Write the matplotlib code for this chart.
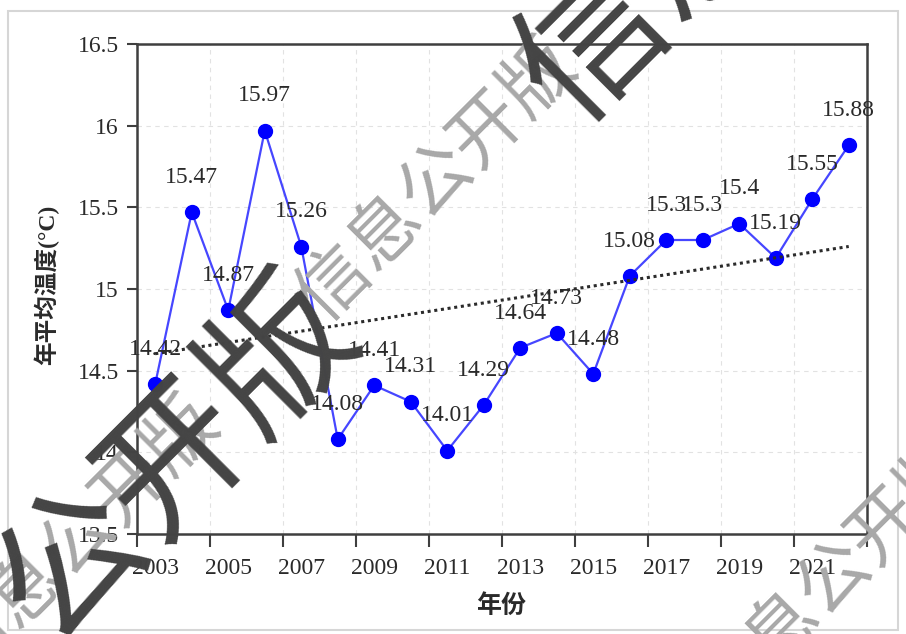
import matplotlib
matplotlib.use("Agg")
import matplotlib.pyplot as plt
import numpy as np
from matplotlib.patches import Rectangle

# Annual mean temperature series
years = list(range(2003, 2023))
temps = [14.42, 15.47, 14.87, 15.97, 15.26, 14.08, 14.41, 14.31, 14.01, 14.29,
         14.64, 14.73, 14.48, 15.08, 15.30, 15.30, 15.40, 15.19, 15.55, 15.88]
year_labels = ["2003", "2005", "2007", "2009", "2011", "2013", "2015",
               "2017", "2019", "2021"]
y_ticks = [13.5, 14.0, 14.5, 15.0, 15.5, 16.0, 16.5]
y_tick_labels = ["13.5", "14", "14.5", "15", "15.5", "16", "16.5"]
x_title = "年份"
y_title = "年平均温度(°C)"
stamp_text = "信息公开版"

W, H = 906, 634
fig = plt.figure(figsize=(W / 100, H / 100), dpi=100)
fig.patch.set_facecolor("white")

# light outer frame of the chart area
fig.patches.append(Rectangle((8 / W, 1 - 630 / H), 890 / W, 619 / H,
                             transform=fig.transFigure, fill=False,
                             edgecolor="#d6d6d6", lw=1.5, zorder=0))

ax = fig.add_axes([137 / W, 1 - 534 / H, 730 / W, 490 / H])
serif = ["Liberation Serif", "DejaVu Serif"]
cjk = ["Liberation Serif", "Noto Sans CJK SC", "DejaVu Sans"]
spine_col = "#3f3f3f"
text_col = "#2a2a2a"

x = np.arange(len(years))
ax.plot(x, temps, color="#4646ff", lw=1.6, zorder=3)
ax.plot(x, temps, ls="none", marker="o", ms=10, color="#0000ff", zorder=4)

# linear trend
coef = np.polyfit(x, temps, 1)
ax.plot(x, np.polyval(coef, x), ls=(0, (1, 1.2)), color="#2b2b2b", lw=2.2, zorder=5)

for xi, v in zip(x, temps):
    ax.annotate(f"{v:g}", (xi, v), xytext=(0, 25), textcoords="offset points",
                ha="center", va="center", fontsize=17, family=serif,
                color=text_col, zorder=6)

ax.set_xlim(-0.5, len(years) - 0.5)
ax.set_ylim(y_ticks[0], y_ticks[-1])
ax.set_yticks(y_ticks)
ax.set_yticklabels(y_tick_labels, family=serif, fontsize=17, color=text_col)
ax.set_xticks(np.arange(-0.5, len(years), 2))
ax.set_xticklabels([])
ax.set_xticks(np.arange(0, len(years), 2), minor=True)
ax.set_xticklabels(year_labels, minor=True, family=serif, fontsize=17, color=text_col)
ax.tick_params(axis="x", which="major", length=9, width=1.5, color=spine_col, direction="out")
ax.tick_params(axis="x", which="minor", length=0, pad=17)
ax.tick_params(axis="y", which="major", length=7, width=1.5, color=spine_col,
               direction="out", pad=6)
for s in ax.spines.values():
    s.set_color(spine_col)
    s.set_linewidth(1.8)
ax.grid(True, which="major", ls=(0, (4, 4)), color="#e2e2e2", lw=0.8, zorder=0)
ax.set_axisbelow(True)

fig.text(501 / W, 1 - 606 / H, x_title, ha="center", va="center", fontsize=18,
         family=cjk, weight="bold", color=text_col)
fig.text(46 / W, 1 - 285 / H, y_title, ha="center", va="center", rotation=90,
         fontsize=17, family=cjk, weight="bold", color=text_col)

# diagonal stamp, thin layer
gap = "\u3000\u3000"
thin_line = (stamp_text + gap) * 2 + stamp_text
for cx, cy in [(437, 183), (835, 580)]:
    fig.text(cx / W, 1 - cy / H, thin_line, ha="center", va="center", rotation=45,
             rotation_mode="anchor", fontsize=52, family=["Noto Sans CJK SC"],
             color="#a8a8a8", zorder=10)

# diagonal stamp, heavy layer
heavy_line = stamp_text + gap + stamp_text
fig.text(440 / W, 1 - 205 / H, heavy_line, ha="center", va="center", rotation=45,
         rotation_mode="anchor", fontsize=106, family=["Noto Sans CJK SC"],
         color="#444444", zorder=11)

fig.savefig("out.png", dpi=100)
